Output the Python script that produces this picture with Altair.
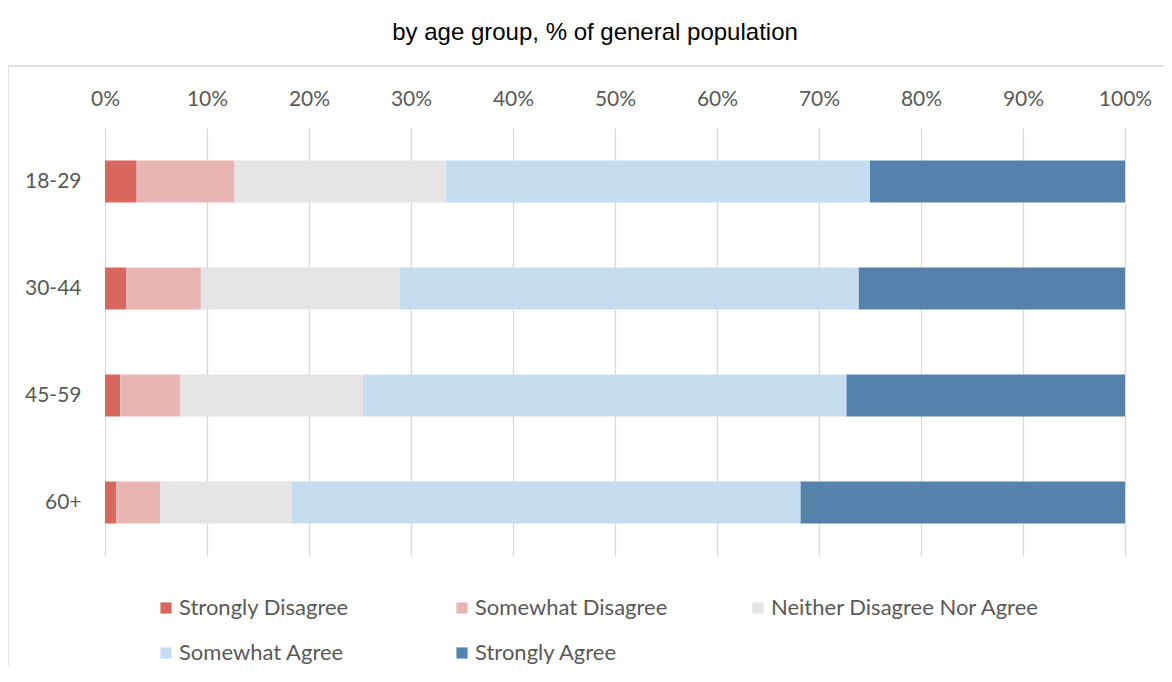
import altair as alt
import pandas as pd

groups = ["18-29", "30-44", "45-59", "60+"]
responses = ["Strongly Disagree", "Somewhat Disagree", "Neither Disagree Nor Agree",
             "Somewhat Agree", "Strongly Agree"]
strongly_disagree = [3.1, 2.1, 1.5, 1.1]
somewhat_disagree = [9.6, 7.3, 5.9, 4.3]
neither = [20.7, 19.5, 17.9, 12.9]
somewhat_agree = [41.6, 45.0, 47.4, 49.9]
strongly_agree = [25.0, 26.1, 27.3, 31.8]
colors = ["#d8685f", "#e9b5b3", "#e6e4e4", "#c6ddf1", "#5582ab"]
x_ticks = [0, 10, 20, 30, 40, 50, 60, 70, 80, 90, 100]

series = [strongly_disagree, somewhat_disagree, neither, somewhat_agree, strongly_agree]
rows = []
for ri, (resp, vals) in enumerate(zip(responses, series)):
    for g, v in zip(groups, vals):
        rows.append({"group": g, "response": resp, "value": v / 100.0, "order": ri})
df = pd.DataFrame(rows)

FONT = "Lato"
FS = 21

bars = alt.Chart(df).mark_bar(size=42).encode(
    y=alt.Y("group:N", sort=groups, title=None,
            scale=alt.Scale(paddingInner=0.6, paddingOuter=0.3),
            axis=alt.Axis(labelFont=FONT, labelFontSize=FS, labelColor="#595959",
                          labelPadding=24, ticks=False, domain=False, grid=False)),
    x=alt.X("value:Q", stack="zero", title=None,
            scale=alt.Scale(domain=[0, 1], nice=False),
            axis=alt.Axis(orient="top", format="%", values=[t / 100 for t in x_ticks],
                          labelFont=FONT, labelFontSize=FS, labelColor="#595959",
                          labelFlush=False,
                          labelPadding=19, ticks=False, domain=False,
                          grid=True, gridColor="#d9d9d9", gridWidth=1.3)),
    color=alt.Color("response:N", sort=responses,
                    scale=alt.Scale(domain=responses, range=colors),
                    legend=alt.Legend(title=None, orient="none", legendX=50, legendY=469,
                                      direction="horizontal",
                                      columns=3, gridAlign="all", symbolType="square",
                                      symbolSize=125, symbolStrokeWidth=0,
                                      labelFont=FONT, labelFontSize=22, labelColor="#595959",
                                      labelOffset=2, columnPadding=3, rowPadding=23,
                                      labelLimit=400)),
    order=alt.Order("order:Q"),
)

frame = alt.Chart(pd.DataFrame({"a": [0]})).mark_rect(
    fill=None, stroke="#d9d9d9", strokeWidth=1.5
).encode(
    x=alt.value(-97), x2=alt.value(1090),
    y=alt.value(-62), y2=alt.value(600),
)

chart = alt.layer(frame, bars).properties(
    width=1020, height=428,
    title=alt.Title("by age group, % of general population", font="Liberation Sans",
                    fontSize=24, fontWeight="normal", color="#000000",
                    anchor="middle", frame="group", dx=-20, offset=20),
    autosize=alt.AutoSizeParams(type="none"),
    padding={"left": 97, "top": 120, "right": 39, "bottom": 110},
).configure(background="white", view=alt.ViewConfig(stroke=None))

chart.save("out.html", embed_options={"renderer": "svg", "actions": False})
